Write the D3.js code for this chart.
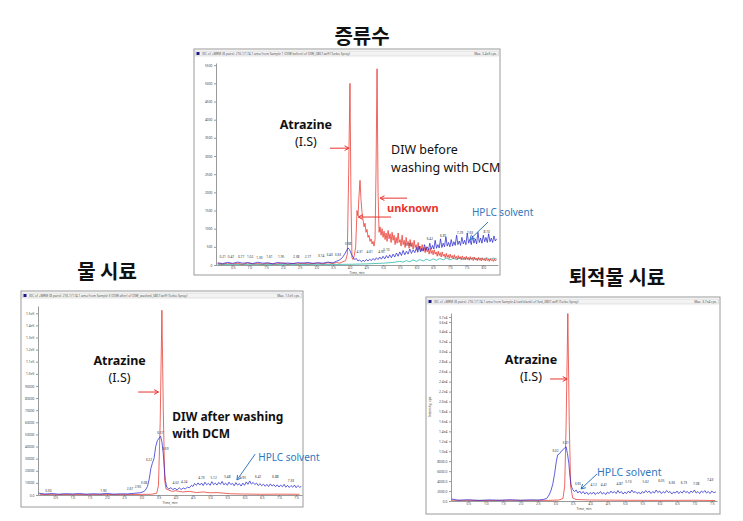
<!DOCTYPE html>
<html><head><meta charset="utf-8">
<script src="https://cdn.jsdelivr.net/npm/d3@7"></script>
<style>body{margin:0;background:#fff}svg{display:block}</style>
</head><body>
<svg id="c" width="743" height="521"></svg>
<script>
// ---------------- DATA ----------------
// Top panel (증류수): time (min), intensity (cps)
const topRed = [[0.05,40],[0.2,25],[0.35,50],[0.5,30],[0.65,45],[0.8,20],[0.95,55],[1.1,30],[1.25,40],[1.4,25],[1.55,50],[1.7,30],[1.85,35],[2.0,60],[2.15,25],[2.3,45],[2.45,30],[2.6,50],[2.75,35],[2.9,40],[3.05,55],[3.2,30],[3.35,60],[3.5,40],[3.6,70],[3.7,50],[3.8,90],[3.88,120],[3.93,300],[3.97,2500],[4.01,5000],[4.04,1800],[4.07,200],[4.1,150],[4.14,260],[4.18,500],[4.22,1500],[4.25,1350],[4.28,1900],[4.31,2330],[4.34,1800],[4.37,1450],[4.4,1250],[4.43,1050],[4.46,1150],[4.49,900],[4.52,980],[4.55,760],[4.58,820],[4.61,650],[4.64,720],[4.67,580],[4.7,650],[4.73,520],[4.76,700],[4.79,2600],[4.82,5400],[4.85,2000],[4.88,900],[4.91,1050],[4.94,820],[4.97,1000],[5.0,760],[5.03,930],[5.06,700],[5.09,880],[5.12,650],[5.15,950],[5.18,720],[5.21,860],[5.24,620],[5.27,900],[5.3,680],[5.33,820],[5.36,560],[5.39,760],[5.42,600],[5.45,880],[5.48,620],[5.51,700],[5.54,520],[5.57,820],[5.6,560],[5.63,680],[5.66,480],[5.69,760],[5.72,540],[5.75,650],[5.78,460],[5.81,700],[5.84,500],[5.87,620],[5.9,440],[5.93,680],[5.96,480],[5.99,560],[6.02,400],[6.05,620],[6.08,430],[6.11,520],[6.14,380],[6.17,560],[6.2,400],[6.23,480],[6.26,340],[6.29,500],[6.32,360],[6.35,440],[6.38,300],[6.41,460],[6.44,320],[6.47,400],[6.5,280],[6.53,420],[6.56,300],[6.59,360],[6.62,240],[6.65,380],[6.68,260],[6.71,340],[6.74,220],[6.77,360],[6.8,240],[6.83,300],[6.86,200],[6.89,320],[6.92,210],[6.95,280],[6.98,180],[7.01,300],[7.04,200],[7.07,260],[7.1,170],[7.13,280],[7.16,180],[7.19,240],[7.22,150],[7.25,260],[7.28,170],[7.31,230],[7.34,140],[7.37,250],[7.4,160],[7.43,220],[7.46,140],[7.49,240],[7.52,150],[7.55,210],[7.58,130],[7.61,230],[7.64,150],[7.67,200],[7.7,120],[7.73,220],[7.76,140],[7.79,190],[7.82,120],[7.85,210],[7.88,130],[7.91,180],[7.94,110],[7.97,200],[8.0,130],[8.03,170],[8.06,110],[8.09,190],[8.12,120],[8.15,160],[8.18,100],[8.21,180],[8.24,120],[8.27,150],[8.3,100],[8.33,170],[8.36,110],[8.4,150]];
const topBlue = [[0.05,60],[0.2,40],[0.35,70],[0.5,45],[0.65,80],[0.8,50],[0.95,65],[1.1,40],[1.25,75],[1.4,50],[1.55,60],[1.7,35],[1.85,70],[2.0,45],[2.15,55],[2.3,40],[2.45,65],[2.6,50],[2.75,70],[2.9,45],[3.05,60],[3.2,50],[3.35,80],[3.5,60],[3.6,100],[3.7,140],[3.78,200],[3.85,300],[3.9,380],[3.95,470],[4.0,420],[4.05,300],[4.1,220],[4.15,150],[4.2,180],[4.25,110],[4.3,140],[4.35,90],[4.4,130],[4.45,100],[4.5,150],[4.55,110],[4.6,160],[4.65,120],[4.7,180],[4.75,130],[4.8,200],[4.85,150],[4.9,220],[4.95,160],[5.0,240],[5.05,170],[5.1,260],[5.15,190],[5.2,280],[5.25,200],[5.3,300],[5.35,220],[5.4,330],[5.45,240],[5.5,360],[5.55,260],[5.6,400],[5.65,280],[5.7,380],[5.75,300],[5.8,440],[5.85,320],[5.9,420],[5.95,340],[6.0,480],[6.04,350],[6.08,520],[6.12,360],[6.16,460],[6.2,380],[6.24,560],[6.28,400],[6.32,500],[6.36,420],[6.4,600],[6.44,430],[6.48,540],[6.52,440],[6.56,680],[6.6,460],[6.64,560],[6.68,470],[6.72,720],[6.76,480],[6.8,600],[6.84,500],[6.88,780],[6.92,520],[6.96,620],[7.0,500],[7.04,700],[7.08,520],[7.12,640],[7.16,540],[7.2,820],[7.24,560],[7.28,660],[7.32,540],[7.36,760],[7.4,580],[7.44,680],[7.48,560],[7.52,880],[7.56,600],[7.6,700],[7.64,560],[7.68,800],[7.72,600],[7.76,720],[7.8,580],[7.84,900],[7.88,620],[7.92,740],[7.96,600],[8.0,820],[8.04,640],[8.08,760],[8.12,620],[8.16,860],[8.2,640],[8.24,740],[8.28,620],[8.32,800],[8.36,660],[8.4,720]];
const topCyan = [[0.05,15],[0.5,10],[1,18],[1.5,12],[2,15],[2.5,10],[3,18],[3.5,14],[4,20],[4.5,30],[5.0,50],[5.3,70],[5.5,100],[5.6,80],[5.7,120],[5.8,90],[5.9,140],[6.0,100],[6.1,150],[6.2,110],[6.3,160],[6.4,120],[6.5,170],[6.6,130],[6.7,180],[6.8,140],[6.9,190],[7.0,140],[7.1,180],[7.2,150],[7.3,200],[7.4,150],[7.5,190],[7.6,160],[7.7,200],[7.8,150],[7.9,190],[8.0,160],[8.1,200],[8.2,150],[8.3,190],[8.4,170]];
const topXTicks = [0.5,1.0,1.5,2.0,2.5,3.0,3.5,4.0,4.5,5.0,5.5,6.0,6.5,7.0,7.5,8.0];
const topYTicks = [0,500,1000,1500,2000,2500,3000,3500,4000,4500,5000,5500];
const topYLabels = ["0","500","1000","1500","2000","2500","3000","3500","4000","4500","5000","5500"];
const topPeakLabels = [[0.2,200,"0.21"],[0.45,200,"0.47"],[0.75,190,"0.77"],[1.02,200,"1.02"],[1.3,170,"1.33"],[1.6,180,"1.61"],[1.95,190,"1.95"],[2.4,200,"2.38"],[2.75,200,"2.77"],[3.15,230,"3.14"],[3.4,240,"3.40"],[3.65,260,"3.63"],[3.95,560,"3.98"],[4.3,330,"4.31"],[4.6,320,"4.61"],[4.95,330,"4.95"],[5.1,380,"5.10"],[5.75,520,"5.76"],[6.4,700,"6.42"],[6.8,760,"6.81"],[7.3,840,"7.29"],[7.6,840,"7.63"],[8.1,880,"8.10"]];

// Left panel (물 시료)
const leftRed = [[0.05,500],[0.5,300],[1,500],[1.5,300],[2,400],[2.5,300],[3,500],[3.3,600],[3.45,1500],[3.5,8000],[3.55,60000],[3.6,152500],[3.64,70000],[3.68,12000],[3.72,5000],[3.8,4000],[3.9,3000],[4.0,3500],[4.2,2500],[4.4,3000],[4.6,2000],[4.8,2500],[5.0,1800],[5.2,2000],[5.4,1500],[5.6,1000],[6,800],[6.5,600],[7,700],[7.6,600]];
const leftBlue = [[0.02,1500],[0.2,800],[0.4,1200],[0.6,700],[0.8,1100],[1.0,800],[1.2,1200],[1.4,700],[1.6,1000],[1.8,800],[2.0,1300],[2.2,700],[2.4,1000],[2.6,900],[2.8,1400],[2.95,1800],[3.05,2500],[3.12,4000],[3.18,7000],[3.23,13000],[3.28,22000],[3.32,26000],[3.37,30000],[3.42,40000],[3.47,45000],[3.52,47000],[3.56,48500],[3.6,44000],[3.64,34000],[3.67,22000],[3.7,12000],[3.74,6500],[3.8,5000],[3.86,6000],[3.92,4500],[3.98,5500],[4.04,4200],[4.1,6000],[4.16,4500],[4.22,5800],[4.28,5000],[4.34,6500],[4.4,6000],[4.46,8000],[4.5,7000],[4.55,9500],[4.6,8000],[4.65,10000],[4.7,8200],[4.75,9800],[4.8,7800],[4.85,10500],[4.9,8400],[4.95,9600],[5.0,8000],[5.05,11000],[5.1,8600],[5.15,9800],[5.2,8200],[5.25,10400],[5.3,8800],[5.35,11200],[5.4,8400],[5.45,9800],[5.5,8000],[5.55,10600],[5.6,8600],[5.65,9600],[5.7,7600],[5.75,10200],[5.8,8200],[5.85,9400],[5.9,7400],[5.95,9800],[6.0,8000],[6.05,10800],[6.1,8800],[6.15,11600],[6.2,9000],[6.25,10400],[6.3,8600],[6.35,9800],[6.4,7800],[6.45,9400],[6.5,7600],[6.55,9000],[6.6,7200],[6.65,8800],[6.7,7000],[6.75,9200],[6.8,7400],[6.85,8600],[6.9,6800],[6.95,8400],[7.0,6600],[7.05,8200],[7.1,6800],[7.15,8800],[7.2,6400],[7.25,8000],[7.3,6200],[7.35,7800],[7.4,6400],[7.45,8200],[7.5,6000],[7.55,7800],[7.6,6400],[7.65,7000]];
const leftXTicks = [0.5,1.0,1.5,2.0,2.5,3.0,3.5,4.0,4.5,5.0,5.5,6.0,6.5,7.0,7.5];
const leftYTicks = [0,10000,20000,30000,40000,50000,60000,70000,80000,90000,100000,110000,120000,130000,140000,150000];
const leftYLabels = ["0.0","10000","20000","30000","40000","50000","60000","70000","80000","90000","1.0e5","1.1e5","1.2e5","1.3e5","1.4e5","1.5e5"];
const leftPeakLabels = [[0.3,2500,"0.30"],[1.9,2500,"1.90"],[2.67,4500,"2.67"],[2.9,5500,"2.90"],[3.08,9000,"3.08"],[3.22,28000,"3.22"],[3.55,50000,"3.57"],[3.7,37000,"3.69"],[4.0,9000,"4.02"],[4.25,10000,"4.24"],[4.75,13000,"4.73"],[5.1,13500,"5.12"],[5.5,14000,"5.48"],[5.95,13500,"5.95"],[6.4,14000,"6.41"],[6.9,14000,"6.88"],[7.35,11000,"7.33"]];

// Right panel (퇴적물 시료)
const rightRed = [[0.02,150],[1,100],[2,150],[2.8,120],[3.1,200],[3.22,500],[3.27,3000],[3.31,15000],[3.36,37700],[3.4,16000],[3.44,3000],[3.5,600],[3.6,300],[4,200],[5,150],[6,120],[7,150],[7.6,100]];
const rightBlue = [[0.02,400],[0.2,150],[0.5,250],[0.8,120],[1.1,220],[1.4,150],[1.7,250],[2.0,130],[2.3,220],[2.5,180],[2.65,300],[2.75,500],[2.82,1200],[2.88,2200],[2.93,3500],[2.98,5500],[3.03,8000],[3.07,9300],[3.12,9500],[3.17,10000],[3.22,10300],[3.27,10700],[3.31,10900],[3.35,9500],[3.39,7500],[3.42,5000],[3.46,3000],[3.5,2300],[3.55,1900],[3.6,2200],[3.65,1600],[3.7,2000],[3.75,1500],[3.8,1900],[3.85,1400],[3.9,1800],[3.95,1300],[4.0,1700],[4.05,1400],[4.1,1800],[4.15,1300],[4.2,1700],[4.25,1500],[4.3,1900],[4.35,1400],[4.4,1700],[4.45,1300],[4.5,1800],[4.55,1500],[4.6,2000],[4.65,1600],[4.7,1900],[4.75,1500],[4.8,2100],[4.85,1600],[4.9,1900],[4.95,1400],[5.0,1800],[5.05,1500],[5.1,2000],[5.15,1600],[5.2,2200],[5.25,1700],[5.3,1900],[5.35,1500],[5.4,1800],[5.45,1400],[5.5,1900],[5.55,1600],[5.6,2100],[5.65,1700],[5.7,2000],[5.75,1500],[5.8,1900],[5.85,1600],[5.9,2200],[5.95,1700],[6.0,2000],[6.05,1500],[6.1,1900],[6.15,1600],[6.2,2100],[6.25,1700],[6.3,1900],[6.35,1400],[6.4,1800],[6.45,1600],[6.5,2000],[6.55,1500],[6.6,1900],[6.65,1600],[6.7,2100],[6.75,1700],[6.8,1900],[6.85,1500],[6.9,2000],[6.95,1700],[7.0,2200],[7.05,1600],[7.1,1900],[7.15,1500],[7.2,2000],[7.25,1700],[7.3,2100],[7.35,1600],[7.4,1900],[7.45,1500],[7.5,2000],[7.55,1700],[7.62,1800]];
const rightXTicks = [0.5,1.0,1.5,2.0,2.5,3.0,3.5,4.0,4.5,5.0,5.5,6.0,6.5,7.0,7.5];
const rightYTicks = [0,2000,4000,6000,8000,10000,12000,14000,16000,18000,20000,22000,24000,26000,28000,30000,32000,34000,36000,37000];
const rightYLabels = ["0.0","2000.0","4000.0","6000.0","8000.0","1.0e4","1.2e4","1.4e4","1.6e4","1.8e4","2.0e4","2.2e4","2.4e4","2.6e4","2.8e4","3.0e4","3.2e4","3.4e4","3.6e4","3.7e4"];
const rightPeakLabels = [[3.0,9800,"3.02"],[3.3,11500,"3.31"],[3.65,3300,"3.65"],[4.1,3000,"4.12"],[4.4,3000,"4.41"],[4.85,3200,"4.87"],[5.1,3600,"5.10"],[5.6,3600,"5.62"],[6.05,3800,"6.05"],[6.35,3400,"6.36"],[6.7,3400,"6.73"],[7.05,3200,"7.08"],[7.45,4000,"7.43"]];

// ---------------- DRAWING ----------------
const RED = "#e8342c", BLUE = "#2a2ad0", TEAL = "#22b3a6", SOLV = "#2f78bd";
const LATIN = "'Noto Sans','DejaVu Sans',sans-serif";
const KR = "'Noto Sans CJK KR','Noto Sans',sans-serif";
const svg = d3.select("#c");

function arrow(g, x1, y1, x2, y2, color) {
  g.append("line").attr("x1", x1).attr("y1", y1).attr("x2", x2).attr("y2", y2)
    .attr("stroke", color).attr("stroke-width", 1);
  const a = Math.atan2(y2 - y1, x2 - x1), L = 5, w = 0.5;
  g.append("path")
    .attr("d", `M${x2 - L*Math.cos(a - w)},${y2 - L*Math.sin(a - w)}L${x2},${y2}L${x2 - L*Math.cos(a + w)},${y2 - L*Math.sin(a + w)}`)
    .attr("fill", "none").attr("stroke", color).attr("stroke-width", 1);
}

function panel(o) {
  const g = svg.append("g");
  g.append("rect").attr("x", o.box[0]).attr("y", o.box[1]).attr("width", o.box[2]).attr("height", o.box[3])
    .attr("fill", "#fff").attr("stroke", "#9a9a9a").attr("stroke-width", 1);
  g.append("rect").attr("x", o.box[0] + 1.5).attr("y", o.box[1] + 2).attr("width", o.box[2] - 3).attr("height", 5)
    .attr("fill", "#f3f3f3").attr("stroke", "#c6c6c6").attr("stroke-width", 0.5);
  g.append("rect").attr("x", o.box[0] + 2.5).attr("y", o.box[1] + 3).attr("width", 3).attr("height", 3).attr("fill", "#1a1a8c");
  g.append("text").attr("x", o.box[0] + 8).attr("y", o.box[1] + 6).attr("font-size", 3.2).attr("fill", "#555")
    .attr("font-family", LATIN).text(o.header);
  g.append("text").attr("x", o.box[0] + o.box[2] - 3).attr("y", o.box[1] + 6).attr("font-size", 3.2).attr("fill", "#555")
    .attr("text-anchor", "end").attr("font-family", LATIN).text(o.max);

  const x = d3.scaleLinear().domain(o.tDom).range(o.xr);
  const y = d3.scaleLinear().domain(o.vDom).range(o.yr);

  const xa = g.append("g").attr("transform", `translate(0,${o.yr[0]})`)
    .call(d3.axisBottom(x).tickValues(o.xTicks).tickFormat(d3.format(".1f")).tickSize(1.5).tickSizeOuter(0).tickPadding(0.6));
  const ya = g.append("g").attr("transform", `translate(${o.xr[0]},0)`)
    .call(d3.axisLeft(y).tickValues(o.yTicks).tickFormat((d, i) => o.yLabels[i]).tickSize(2).tickSizeOuter(0).tickPadding(1.5));
  [xa, ya].forEach(a => {
    a.attr("font-size", 3.3).attr("font-family", LATIN);
    a.selectAll("text").attr("fill", "#444");
    a.selectAll("line,path").attr("stroke", "#555").attr("stroke-width", 0.6);
  });
  g.append("text").attr("x", (o.xr[0] + o.xr[1]) / 2).attr("y", o.yr[0] + 9).attr("text-anchor", "middle")
    .attr("font-size", 3.2).attr("fill", "#444").attr("font-family", LATIN).text("Time, min");
  if (o.yTitle) {
    g.append("text").attr("transform", `translate(${o.box[0] + 5},${(o.yr[0] + o.yr[1]) / 2}) rotate(-90)`)
      .attr("text-anchor", "middle").attr("font-size", 3.4).attr("fill", "#444").attr("font-family", LATIN).text(o.yTitle);
  }

  const line = d3.line().x(d => x(d[0])).y(d => y(d[1]));
  o.series.forEach(s => {
    g.append("path").datum(s.data).attr("d", line).attr("fill", "none")
      .attr("stroke", s.color).attr("stroke-width", s.w || 0.75).attr("stroke-linejoin", "round");
  });
  g.append("g").selectAll("text").data(o.peaks).join("text")
    .attr("x", d => x(d[0])).attr("y", d => y(d[1])).attr("text-anchor", "middle")
    .attr("font-size", 3.2).attr("fill", "#333").attr("font-family", LATIN).text(d => d[2]);
  return { g, x, y };
}

const P1 = panel({
  box: [194, 49, 306, 226],
  header: "XIC of +MRM (8 pairs): 216.1/174.1 amu from Sample 1 (DIW before) of DIW_0807.wiff (Turbo Spray)",
  max: "Max. 5.4e3 cps.",
  tDom: [0, 8.44], xr: [216, 498],
  vDom: [0, 5560], yr: [265, 63],
  xTicks: topXTicks, yTicks: topYTicks, yLabels: topYLabels,
  series: [{ data: topCyan, color: TEAL }, { data: topRed, color: RED }, { data: topBlue, color: BLUE }],
  peaks: topPeakLabels
});
const P2 = panel({
  box: [21, 291, 282, 216],
  header: "XIC of +MRM (8 pairs): 216.1/174.1 amu from Sample 3 (DIW after) of DIW_washed_0807.wiff (Turbo Spray)",
  max: "Max. 1.5e5 cps.",
  tDom: [0, 7.67], xr: [38, 302],
  vDom: [0, 156000], yr: [495, 306],
  xTicks: leftXTicks, yTicks: leftYTicks, yLabels: leftYLabels,
  series: [{ data: leftRed, color: RED }, { data: leftBlue, color: BLUE }],
  peaks: leftPeakLabels
});
const P3 = panel({
  box: [426, 297, 294, 217],
  header: "XIC of +MRM (8 pairs): 216.1/174.1 amu from Sample 4 (sed blank) of Sed_0807.wiff (Turbo Spray)",
  max: "Max. 3.7e4 cps.",
  tDom: [0, 7.65], xr: [451, 717],
  vDom: [0, 37800], yr: [501, 313],
  xTicks: rightXTicks, yTicks: rightYTicks, yLabels: rightYLabels, yTitle: "Intensity, cps",
  series: [{ data: rightRed, color: RED }, { data: rightBlue, color: BLUE }],
  peaks: rightPeakLabels
});

function label(P, t, v, txt, opt) {
  P.g.append("text").attr("x", P.x(t)).attr("y", P.y(v))
    .attr("text-anchor", opt.anchor || "start").attr("font-size", opt.size)
    .attr("font-weight", opt.weight || "normal").attr("fill", opt.color || "#111")
    .attr("font-family", LATIN).text(txt);
}
function arr(P, t1, v1, t2, v2, c) { arrow(P.g, P.x(t1), P.y(v1), P.x(t2), P.y(v2), c); }

label(P1, 2.69, 3757, "Atrazine", { anchor: "middle", size: 12.5, weight: "bold" });
label(P1, 2.69, 3284, "(I.S)", { anchor: "middle", size: 12.5 });
arr(P1, 3.41, 3215, 3.98, 3215, RED);
label(P1, 5.24, 3042, "DIW before", { size: 12.5 });
label(P1, 5.24, 2568, "washing with DCM", { size: 12.5 });
arr(P1, 5.72, 1840, 4.91, 1840, RED);
arr(P1, 5.24, 1320, 4.26, 1320, RED);
label(P1, 5.12, 1456, "unknown", { size: 11, weight: "bold", color: RED });
label(P1, 7.66, 1346, "HPLC solvent", { size: 10, color: SOLV });
arr(P1, 8.14, 1181, 7.6, 700, SOLV);

label(P2, 2.37, 107300, "Atrazine", { anchor: "middle", size: 12.5, weight: "bold" });
label(P2, 2.37, 93100, "(I.S)", { anchor: "middle", size: 12.5 });
arr(P2, 2.91, 85000, 3.5, 85000, RED);
label(P2, 3.9, 61080, "DIW after washing", { size: 12, weight: "bold" });
label(P2, 3.9, 47460, "with DCM", { size: 12, weight: "bold" });
label(P2, 6.40, 28030, "HPLC solvent", { size: 10, color: SOLV });
arr(P2, 6.31, 33800, 5.78, 12370, SOLV);

label(P3, 2.30, 27550, "Atrazine", { anchor: "middle", size: 12.5, weight: "bold" });
label(P3, 2.30, 24090, "(I.S)", { anchor: "middle", size: 12.5 });
arr(P3, 2.85, 24530, 3.34, 24530, RED);
label(P3, 4.2, 5035, "HPLC solvent", { size: 10.5, color: SOLV });
arr(P3, 4.2, 5440, 3.74, 2420, SOLV);

const titles = [["증류수", 362, 44], ["물 시료", 107, 279], ["퇴적물 시료", 617, 285]];
svg.selectAll("text.title").data(titles).join("text").attr("class", "title")
  .attr("x", d => d[1]).attr("y", d => d[2]).attr("text-anchor", "middle")
  .attr("font-family", KR).attr("font-weight", "bold").attr("font-size", 20).attr("fill", "#111")
  .text(d => d[0]);
</script>
</body></html>
